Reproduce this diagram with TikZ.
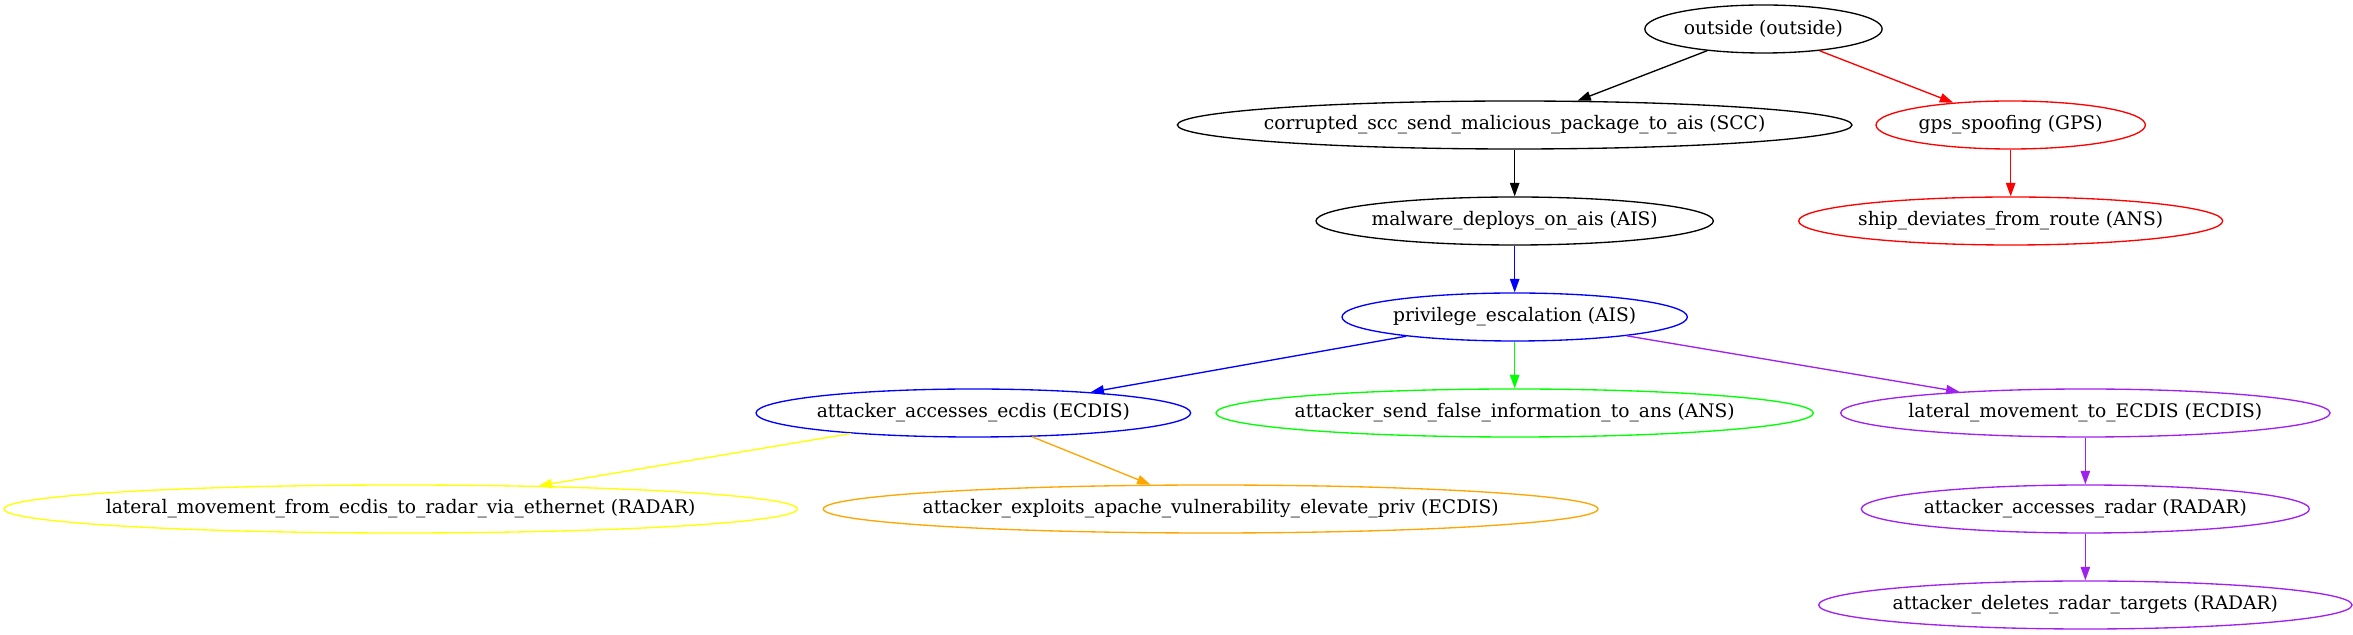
\documentclass[tikz,border=0pt]{standalone}
\usepackage{fontspec}
\setmainfont{DejaVu Serif}
\usetikzlibrary{arrows.meta,shapes.geometric}

\definecolor{gvpurple}{HTML}{A020F0}
\definecolor{gvgreen}{HTML}{00FF00}
\definecolor{gvyellow}{HTML}{FFFF00}
\definecolor{gvorange}{HTML}{FFA500}

\begin{document}
\begin{tikzpicture}
    [x=1pt,y=1pt,
      attack/.style={draw,ellipse,line width=1pt,minimum height=36pt,inner xsep=-20pt,inner ysep=0pt,
        font=\fontsize{14}{17}\selectfont},
      hop/.style={line width=1pt,-{Triangle[length=10pt,width=7pt]}},
      spoof/.style={draw=red},
      ais/.style={draw=blue},
      ans/.style={draw=gvgreen},
      radar/.style={draw=gvpurple},
      ether/.style={draw=gvyellow},
      apache/.style={draw=gvorange}
    ]

    \useasboundingbox (0,0) rectangle (1764.75,476.25);

    \node [attack,minimum width=178pt] (outside) at (1322.6,454.5) {outside (outside)};

    \node [attack,minimum width=506pt] (scc) at (1136,382.5) {corrupted\_scc\_send\_malicious\_package\_to\_ais (SCC)};
    \node [attack,spoof,minimum width=202pt] (gps) at (1508,382.5) {gps\_spoofing (GPS)};

    \node [attack,minimum width=298pt] (malware) at (1136,310.5) {malware\_deploys\_on\_ais (AIS)};
    \node [attack,spoof,minimum width=318pt] (deviate) at (1508,310.5) {ship\_deviates\_from\_route (ANS)};

    \node [attack,ais,minimum width=259pt] (privesc) at (1136,238.5) {privilege\_escalation (AIS)};

    \node [attack,ais,minimum width=326pt] (ecdis) at (730,166.5) {attacker\_accesses\_ecdis (ECDIS)};
    \node [attack,ans,minimum width=448pt] (falseinfo) at (1136,166.5) {attacker\_send\_false\_information\_to\_ans (ANS)};
    \node [attack,radar,minimum width=367pt] (toecdis) at (1564,166.5) {lateral\_movement\_to\_ECDIS (ECDIS)};

    \node [attack,ether,minimum width=595pt] (toradar) at (300.5,94.5) {lateral\_movement\_from\_ecdis\_to\_radar\_via\_ethernet (RADAR)};
    \node [attack,apache,minimum width=581pt] (exploit) at (908,94.5) {attacker\_exploits\_apache\_vulnerability\_elevate\_priv (ECDIS)};
    \node [attack,radar,minimum width=336pt] (radar) at (1564,94.5) {attacker\_accesses\_radar (RADAR)};

    \node [attack,radar,minimum width=400pt] (targets) at (1564,22.5) {attacker\_deletes\_radar\_targets (RADAR)};

    \draw [hop] (outside) -- (scc);
    \draw [hop,red] (outside) -- (gps);
    \draw [hop] (scc) -- (malware);
    \draw [hop,red] (gps) -- (deviate);
    \draw [hop,blue] (malware) -- (privesc);
    \draw [hop,blue] (privesc) -- (ecdis);
    \draw [hop,gvgreen] (privesc) -- (falseinfo);
    \draw [hop,gvpurple] (privesc) -- (toecdis);
    \draw [hop,gvyellow] (ecdis) -- (toradar);
    \draw [hop,gvorange] (ecdis) -- (exploit);
    \draw [hop,gvpurple] (toecdis) -- (radar);
    \draw [hop,gvpurple] (radar) -- (targets);
\end{tikzpicture}
\end{document}
